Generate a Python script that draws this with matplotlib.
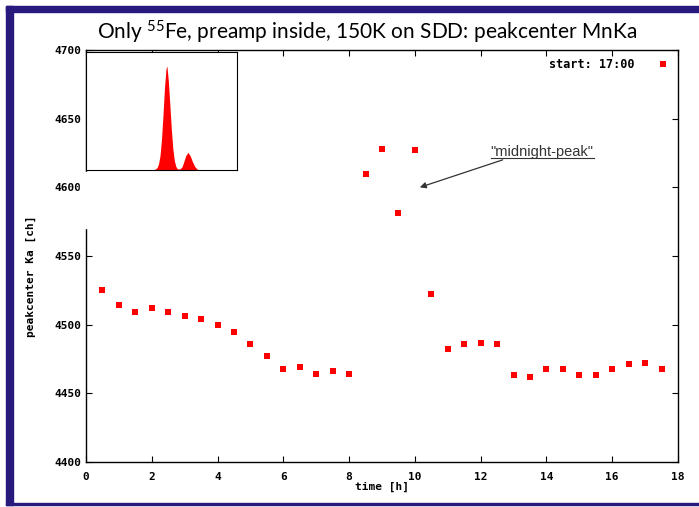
import matplotlib
matplotlib.use("Agg")
import matplotlib.pyplot as plt
from matplotlib.patches import Rectangle

plt.rcParams["mathtext.default"] = "regular"

# peak center vs. time
time_h = [0.5, 1.0, 1.5, 2.0, 2.5, 3.0, 3.5, 4.0, 4.5, 5.0, 5.5, 6.0,
          6.5, 7.0, 7.5, 8.0, 8.5, 9.0, 9.5, 10.0, 10.5, 11.0, 11.5, 12.0,
          12.5, 13.0, 13.5, 14.0, 14.5, 15.0, 15.5, 16.0, 16.5, 17.0, 17.5]
peakcenter = [4525, 4514, 4509, 4512, 4509, 4506, 4504, 4500, 4495, 4486,
              4477, 4468, 4469, 4464, 4466, 4464, 4610, 4628, 4581, 4627,
              4522, 4482, 4486, 4487, 4486, 4463, 4462, 4468, 4468, 4463,
              4463, 4468, 4471, 4472, 4468]

# inset spectrum (channel, counts)
spec_ch = [400, 440, 460, 470, 480, 490, 500, 510, 520, 530, 536, 545,
           555, 565, 575, 585, 595, 605, 620, 635, 645, 660, 675, 690,
           705, 720, 735, 750, 800]
spec_counts = [0, 2, 8, 20, 50, 120, 260, 470, 700, 860, 880, 760,
               560, 350, 180, 80, 30, 10, 8, 25, 60, 120, 150, 120,
               70, 30, 8, 2, 0]

xticks = list(range(0, 19, 2))
yticks = list(range(4400, 4701, 50))

W, H = 699, 507
fig = plt.figure(figsize=(W / 100, H / 100), dpi=100)

def fx(px):
    return px / W

def fy(py):
    return 1 - py / H

ax = fig.add_axes([fx(86), fy(462), fx(678) - fx(86), fy(50) - fy(462)])

mono = {"family": "DejaVu Sans Mono", "weight": "bold", "size": 8}

ax.plot(time_h, peakcenter, "s", color="red", ms=5, mew=0,
        label="start: 17:00")
ax.set_xlim(0, 18)
ax.set_ylim(4400, 4700)
ax.set_xticks(xticks)
ax.set_yticks(yticks)
ax.tick_params(direction="in", length=4, width=0.8, top=True, right=True)
ax.tick_params(axis="x", pad=7)
ax.tick_params(axis="y", pad=3)
for lab in ax.get_xticklabels() + ax.get_yticklabels():
    lab.set_fontproperties(mono)
for s in ax.spines.values():
    s.set_linewidth(1.0)
ax.set_xlabel("time [h]", fontdict=mono, labelpad=0)
ax.set_ylabel("peakcenter Ka [ch]", fontdict=mono)
ax.yaxis.set_label_coords(-0.085, 0.45)

leg = ax.legend(loc="upper right", markerfirst=False, frameon=False,
                handlelength=1.2, handletextpad=1.8, borderaxespad=0.3,
                prop={"family": "DejaVu Sans Mono", "weight": "bold",
                      "size": 8.5})

# annotation: label text + arrow
lbl = ax.text(12.3, 4626, '"midnight-peak"', fontsize=10.5,
              family="Liberation Sans", color="#333333",
              va="center", ha="left")
ax.annotate("", xy=(10.15, 4600), xytext=(12.67, 4620),
            arrowprops=dict(arrowstyle="-|>", color="#333333", lw=0.9,
                            shrinkA=0, shrinkB=0, mutation_scale=9))

fig.suptitle("Only $^{55}$Fe, preamp inside, 150K on SDD: peakcenter MnKa",
             x=fx(367), y=fy(32), va="center", fontsize=15,
             family="Lato")

# inset spectrum
ins = fig.add_axes([fx(86), fy(170), fx(237) - fx(86), fy(52) - fy(170)])
ins.fill_between(spec_ch, spec_counts, color="red", lw=0)
ins.set_xlim(0, 1000)
ins.set_ylim(0, 1000)
ins.set_xticks([])
ins.set_yticks([])
for s in ins.spines.values():
    s.set_linewidth(0.8)

# white patch below the inset hiding the spine
fig.patches.append(Rectangle((fx(80), fy(228)), fx(12), fy(172) - fy(228),
                             transform=fig.transFigure, color="white",
                             zorder=5))

# navy frame
navy = "#281a7c"
fig.patches.append(Rectangle((fx(6), fy(505)), fx(7), fy(6) - fy(505),
                             transform=fig.transFigure, color=navy))
fig.patches.append(Rectangle((fx(6), fy(12)), 1, fy(6) - fy(12),
                             transform=fig.transFigure, color=navy))
fig.patches.append(Rectangle((fx(6), fy(505)), 1, fy(503) - fy(505),
                             transform=fig.transFigure, color=navy))

# underline the annotation text
fig.canvas.draw()
bb = lbl.get_window_extent().transformed(fig.transFigure.inverted())
fig.add_artist(plt.Line2D([bb.x0, bb.x1], [bb.y0 + 0.002, bb.y0 + 0.002],
                          transform=fig.transFigure, color="#333333", lw=0.8))

fig.savefig("out.png", dpi=100)
